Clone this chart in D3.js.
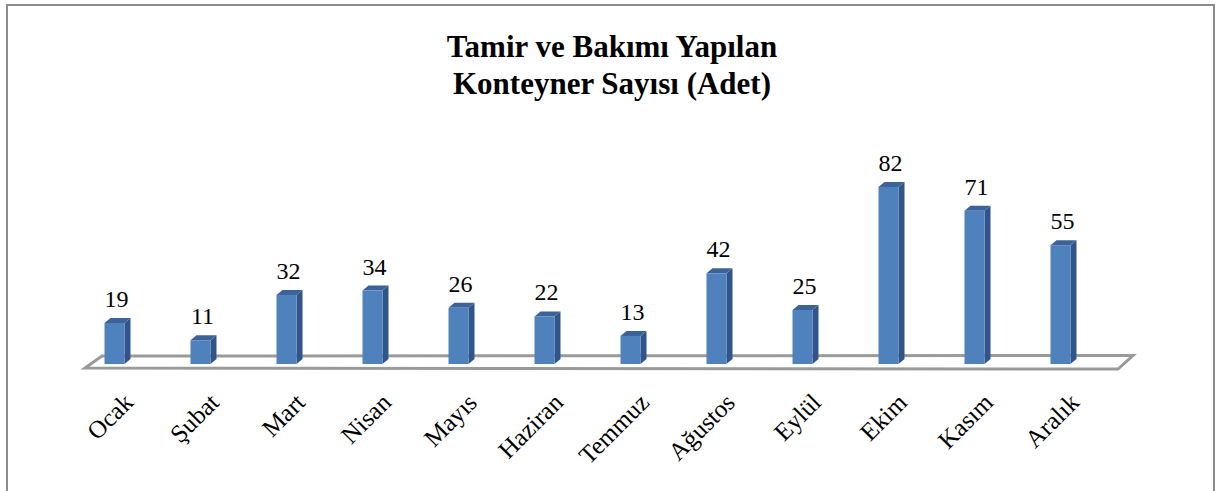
<!DOCTYPE html>
<html>
<head>
<meta charset="utf-8">
<script src="https://cdn.jsdelivr.net/npm/d3@7"></script>
<style>
    body { margin: 0; background: #fff; }
    svg { display: block; }
</style>
</head>
<body>
<div id="chart"></div>
<script>
const months = ["Ocak", "Şubat", "Mart", "Nisan", "Mayıs", "Haziran", "Temmuz", "Ağustos", "Eylül", "Ekim", "Kasım", "Aralık"];
const counts = [19, 11, 32, 34, 26, 22, 13, 42, 25, 82, 71, 55];
const titleLines = ["Tamir ve Bakımı Yapılan", "Konteyner Sayısı (Adet)"];

const W = 1217, H = 491;
const depthX = 6, depthY = 5;   // 3d offset of the columns
const barW = 20;
const serif = "'Liberation Serif', 'Times New Roman', serif";

const svg = d3.select("#chart")
    .append("svg")
    .attr("width", W)
    .attr("height", H);

// outer chart border
svg.append("rect")
    .attr("x", 7)
    .attr("y", 5)
    .attr("width", 1207)
    .attr("height", 520)
    .attr("fill", "#fff")
    .attr("stroke", "#8c8c8c")
    .attr("stroke-width", 2);

const xScale = d3.scaleBand()
    .domain(months)
    .range([71.5, 1103.5]);

const yScale = d3.scaleLinear()
    .domain([0, 100])
    .range([364, 148]);

// title
svg.append("text")
    .attr("x", 612)
    .attr("text-anchor", "middle")
    .style("font-family", serif)
    .style("font-size", "31px")
    .style("font-weight", "bold")
    .selectAll("tspan")
    .data(titleLines)
    .enter().append("tspan")
    .attr("x", 612)
    .attr("y", (d, i) => 57 + i * 36.5)
    .text(d => d);

// floor of the 3d plot
const x0 = xScale.range()[0], x1 = xScale.range()[1];
const y0 = yScale(0);
const floorPts = [
    [x0 + 13.5, y0 + 4],
    [x1 + 14.5, y0 + 5],
    [x1 + 29.5, y0 - 8.5],
    [x0 + 30.5, y0 - 8]
];
svg.append("polygon")
    .attr("points", floorPts.map(p => p.join(",")).join(" "))
    .attr("fill", "#fff")
    .attr("stroke", "#9a9a9a")
    .attr("stroke-width", 3)
    .attr("stroke-linejoin", "miter");

const data = months.map((m, i) => ({ month: m, value: counts[i] }));

const bars = svg.selectAll(".bar")
    .data(data)
    .enter().append("g")
    .attr("class", "bar");

const left = d => xScale(d.month) + xScale.bandwidth() / 2 - barW / 2;

// side face
bars.append("polygon")
    .attr("points", d => {
        const l = left(d) + barW, t = yScale(d.value), b = yScale(0);
        return [[l, b], [l, t], [l + depthX, t - depthY], [l + depthX, b - depthY]]
            .map(p => p.join(",")).join(" ");
    })
    .attr("fill", "#31558a");

// top face
bars.append("polygon")
    .attr("points", d => {
        const l = left(d), t = yScale(d.value);
        return [[l, t], [l + barW, t], [l + barW + depthX, t - depthY], [l + depthX, t - depthY]]
            .map(p => p.join(",")).join(" ");
    })
    .attr("fill", "#3b6399");

// front face
bars.append("rect")
    .attr("x", d => left(d))
    .attr("y", d => yScale(d.value))
    .attr("width", barW)
    .attr("height", d => yScale(0) - yScale(d.value))
    .attr("fill", "#4f81bd");

// value labels
bars.append("text")
    .attr("x", d => xScale(d.month) + xScale.bandwidth() / 2 + 2)
    .attr("y", d => yScale(d.value) - 16)
    .attr("text-anchor", "middle")
    .style("font-family", serif)
    .style("font-size", "24px")
    .text(d => d.value);

// category labels, rotated
svg.selectAll(".cat")
    .data(months)
    .enter().append("text")
    .attr("class", "cat")
    .attr("text-anchor", "end")
    .attr("transform", d => "translate(" + (xScale(d) + xScale.bandwidth() / 2 + 20) + ",404) rotate(-45)")
    .style("font-family", serif)
    .style("font-size", "25px")
    .text(d => d);
</script>
</body>
</html>
